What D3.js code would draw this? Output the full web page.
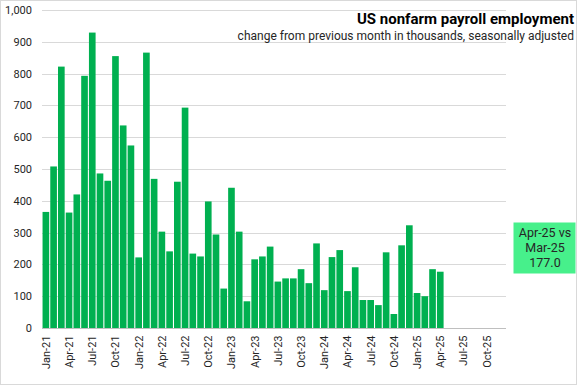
<!DOCTYPE html>
<html>
<head>
<meta charset="utf-8">
<script src="https://cdn.jsdelivr.net/npm/d3@7"></script>
<style>
  body { margin: 0; background: #fff; }
  svg { display: block; font-family: "Roboto", "Noto Sans", sans-serif; }
</style>
</head>
<body>
<script>
// monthly change, thousands, Jan-21 .. Apr-25
const firstMonth = new Date(2021, 0, 1);
const lastMonth = new Date(2025, 11, 1); // axis runs to Dec-25
const payrollChange = [
  365, 508, 822, 363, 420, 793, 929, 486, 463, 855, 637, 574,
  222, 866, 469, 303, 241, 460, 693, 234, 225, 398, 294, 124,
  441, 303, 84, 216, 225, 256, 146, 156, 156, 185, 141, 266,
  119, 223, 245, 116, 191, 88, 88, 72, 238, 44, 260, 323,
  110, 100, 185, 177
];
const yTicks = [0, 100, 200, 300, 400, 500, 600, 700, 800, 900, 1000];
const titleText = "US nonfarm payroll employment";
const subtitleText = "change from previous month in thousands, seasonally  adjusted";
const calloutLines = ["Apr-25 vs", "Mar-25", "177.0"];

const W = 577, H = 385;
const margin = {top: 10, right: 71, bottom: 57, left: 42};

const months = d3.timeMonth.range(firstMonth, d3.timeMonth.offset(lastMonth, 1));
const fmtMonth = d3.timeFormat("%b-%y");
const bars = payrollChange.map((v, i) => ({month: months[i], value: v}));

const svg = d3.select("body").append("svg")
  .attr("width", W).attr("height", H);

svg.append("rect")
  .attr("x", 0.5).attr("y", 0.5)
  .attr("width", W - 1).attr("height", H - 1)
  .attr("fill", "#fff").attr("stroke", "#d9d9d9");

const x = d3.scaleBand()
  .domain(months.map(fmtMonth))
  .range([margin.left, W - margin.right])
  .paddingInner(0.14).paddingOuter(0.07);

const y = d3.scaleLinear()
  .domain([0, 1000])
  .range([H - margin.bottom, margin.top]);

// gridlines
svg.append("g")
  .selectAll("line")
  .data(yTicks.slice(1))
  .join("line")
  .attr("x1", margin.left).attr("x2", W - margin.right)
  .attr("y1", d => Math.round(y(d)) + 0.5).attr("y2", d => Math.round(y(d)) + 0.5)
  .attr("stroke", "#d9d9d9");

// y axis labels
const yAxis = svg.append("g")
  .attr("transform", `translate(${margin.left},0)`)
  .call(d3.axisLeft(y).tickValues(yTicks).tickFormat(d3.format(",")).tickSize(0).tickPadding(10));
yAxis.select(".domain").remove();
yAxis.selectAll("text").attr("font-size", 11).attr("fill", "#262626")
  .attr("font-family", "Roboto, sans-serif");

// bars
svg.append("g")
  .selectAll("rect")
  .data(bars)
  .join("rect")
  .attr("x", d => x(fmtMonth(d.month)))
  .attr("width", x.bandwidth())
  .attr("y", d => y(d.value))
  .attr("height", d => y(0) - y(d.value))
  .attr("fill", "#00b050");

// x axis
const xAxis = svg.append("g")
  .attr("transform", `translate(0,${Math.round(y(0)) + 0.5})`)
  .call(d3.axisBottom(x)
    .tickValues(months.filter(m => m.getMonth() % 3 === 0).map(fmtMonth))
    .tickSize(0).tickPadding(0));
xAxis.select(".domain").attr("stroke", "#bfbfbf").attr("d", `M${margin.left},0H${W - margin.right}`);
xAxis.selectAll("text")
  .attr("font-size", 11).attr("fill", "#262626")
  .attr("font-family", "Roboto, sans-serif")
  .attr("transform", "rotate(-90)")
  .attr("text-anchor", "end")
  .attr("x", -7).attr("y", 0).attr("dy", "0.35em");

// titles
svg.append("text")
  .attr("x", 574).attr("y", 24)
  .attr("text-anchor", "end")
  .attr("font-size", 15).attr("font-weight", "bold").attr("fill", "#000")
  .text(titleText);
svg.append("text")
  .attr("x", 574).attr("y", 40)
  .attr("text-anchor", "end")
  .attr("font-size", 12).attr("fill", "#262626")
  .text(subtitleText);

// callout box
const box = svg.append("g");
box.append("rect")
  .attr("x", 513.5).attr("y", 222.5)
  .attr("width", 62).attr("height", 51)
  .attr("fill", "#47f08b");
box.selectAll("text")
  .data(calloutLines)
  .join("text")
  .attr("x", 545).attr("y", (d, i) => 237 + i * 15)
  .attr("text-anchor", "middle")
  .attr("font-size", 12.5).attr("fill", "#262626")
  .text(d => d);
</script>
</body>
</html>
